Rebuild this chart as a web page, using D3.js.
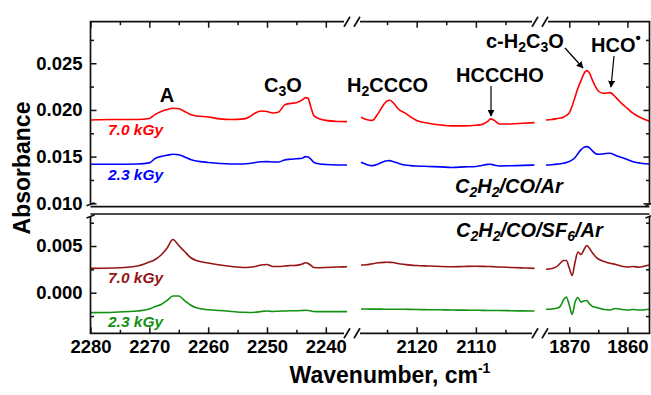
<!DOCTYPE html>
<html><head><meta charset="utf-8">
<script src="https://cdn.jsdelivr.net/npm/d3@7"></script>
<style>
body{margin:0;background:#fff}
svg{display:block}
text{font-family:"Liberation Sans",Arial,Helvetica,sans-serif;font-weight:bold}
</style>
</head><body>
<svg id="chart" width="651" height="395"></svg>
<script>
// ---------- DATA ----------
// Segment 1 (2280-2236 cm-1)
const wn1 = [2280,2276,2272,2270,2269,2268,2267,2266,2265,2264,2263,2262,2260,2258,2256,2254,2253,2252,2251,2250,2249,2248,2247,2246,2245,2244,2243.5,2243,2242.5,2242,2241,2240,2238,2236.4];
const red1 = [0.01893,0.01898,0.01898,0.01909,0.01952,0.01984,0.02005,0.02018,0.02013,0.01984,0.01952,0.01936,0.01925,0.01904,0.01898,0.01904,0.01925,0.01968,0.01989,0.01984,0.01968,0.01979,0.02054,0.02070,0.02078,0.02107,0.02132,0.02123,0.02021,0.01936,0.01904,0.01888,0.01877,0.01875];
const blue1 = [0.01419,0.01419,0.01422,0.01433,0.01481,0.01502,0.01515,0.01526,0.01520,0.01497,0.01470,0.01454,0.01438,0.01427,0.01422,0.01422,0.01427,0.01438,0.01445,0.01447,0.01443,0.01443,0.01465,0.01472,0.01477,0.01483,0.01500,0.01497,0.01470,0.01438,0.01422,0.01416,0.01411,0.01411];
const darkred1 = [0.00261,0.00265,0.00286,0.00329,0.00356,0.00404,0.00475,0.00570,0.00505,0.00441,0.00377,0.00345,0.00318,0.00297,0.00281,0.00270,0.00272,0.00281,0.00297,0.00302,0.00281,0.00281,0.00286,0.00291,0.00293,0.00307,0.00321,0.00313,0.00291,0.00270,0.00268,0.00270,0.00275,0.00278];
const green1 = [-0.00214,-0.00209,-0.00196,-0.00175,-0.00148,-0.00126,-0.00084,-0.00035,-0.00036,-0.00084,-0.00132,-0.00162,-0.00183,-0.00191,-0.00201,-0.00210,-0.00212,-0.00210,-0.00201,-0.00196,-0.00201,-0.00198,-0.00196,-0.00194,-0.00193,-0.00191,-0.00188,-0.00191,-0.00196,-0.00201,-0.00203,-0.00203,-0.00203,-0.00203];

// Segment 2 (2129-2100 cm-1)
const wn2 = [2129.4,2128.5,2127.5,2126.5,2125.5,2125,2124.5,2124,2123,2122,2121,2120,2118,2116,2114,2112,2110,2109,2108,2107.5,2107,2106,2104,2102,2100.1];
const red2 = [0.01922,0.01898,0.01888,0.01963,0.02064,0.02096,0.02104,0.02080,0.02005,0.01968,0.01925,0.01888,0.01858,0.01839,0.01829,0.01829,0.01836,0.01845,0.01877,0.01904,0.01893,0.01850,0.01850,0.01858,0.01864];
const blue2 = [0.01440,0.01417,0.01404,0.01422,0.01449,0.01456,0.01457,0.01449,0.01427,0.01411,0.01404,0.01400,0.01395,0.01390,0.01384,0.01390,0.01395,0.01406,0.01417,0.01419,0.01411,0.01400,0.01403,0.01406,0.01411];
const darkred2 = [0.00297,0.00300,0.00310,0.00320,0.00325,0.00326,0.00325,0.00323,0.00310,0.00302,0.00295,0.00291,0.00286,0.00281,0.00278,0.00281,0.00283,0.00282,0.00281,0.00280,0.00278,0.00275,0.00270,0.00265,0.00261];
const green2 = [-0.00175,-0.00175,-0.00176,-0.00176,-0.00177,-0.00177,-0.00177,-0.00177,-0.00178,-0.00178,-0.00179,-0.00180,-0.00182,-0.00183,-0.00185,-0.00187,-0.00188,-0.00189,-0.00190,-0.00190,-0.00191,-0.00191,-0.00193,-0.00195,-0.00196];

// Segment 3 (1874-1856 cm-1)
const wn3 = [1874,1873,1872,1871.5,1871,1870.5,1870,1869.5,1869,1868.5,1868,1867.5,1867,1866.5,1866,1865.5,1865,1864,1863,1862,1861,1860,1859,1858,1857,1856.2];
const red3 = [0.01893,0.01898,0.01909,0.01914,0.01923,0.01941,0.01968,0.02043,0.02139,0.02236,0.02311,0.02386,0.02421,0.02391,0.02316,0.02252,0.02203,0.02177,0.02185,0.02134,0.02070,0.02016,0.01963,0.01927,0.01898,0.01880];
const blue3 = [0.01411,0.01414,0.01420,0.01424,0.01430,0.01438,0.01449,0.01465,0.01491,0.01534,0.01572,0.01599,0.01607,0.01593,0.01561,0.01534,0.01526,0.01531,0.01536,0.01513,0.01491,0.01470,0.01445,0.01433,0.01424,0.01422];
const darkred3 = [0.00251,0.00259,0.00286,0.00318,0.00345,0.00345,0.00265,0.00184,0.00329,0.00436,0.00409,0.00457,0.00505,0.00473,0.00425,0.00388,0.00361,0.00334,0.00315,0.00302,0.00283,0.00275,0.00281,0.00272,0.00286,0.00297];
const green3 = [-0.00178,-0.00175,-0.00164,-0.00142,-0.00078,-0.00046,-0.00132,-0.00233,-0.00100,-0.00051,-0.00100,-0.00089,-0.00084,-0.00121,-0.00148,-0.00156,-0.00164,-0.00180,-0.00185,-0.00169,-0.00180,-0.00185,-0.00180,-0.00185,-0.00183,-0.00178];

// Tick values
const xMajor1 = [2280,2270,2260,2250,2240], xMinor1 = [2275,2265,2255,2245];
const xMajor2 = [2120,2110], xMinor2 = [2125,2115,2105];
const xMajor3 = [1870,1860], xMinor3 = [1865];
const yMajorU = [0.010,0.015,0.020,0.025], yMinorU = [0.0125,0.0175,0.0225,0.0275];
const yMajorL = [0.000,0.005], yMinorL = [-0.0025,0.0025,0.0075];

// Labels
const doseLabels = ["7.0 kGy","2.3 kGy"];
const colors = {red:"#ff0000", blue:"#0000ff", darkred:"#951515", green:"#129112"};

// ---------- LAYOUT ----------
const svg = d3.select("#chart");
const L = 90.5, R = 649.5, T = 21.7, B = 333.3, UB = 206.7, LT = 214;

const segs = [
  {x: d3.scaleLinear().domain([2280, 2236.4]).range([L, 347]), wn: wn1, major: xMajor1, minor: xMinor1,
   series: [red1, blue1, darkred1, green1]},
  {x: d3.scaleLinear().domain([2129.4, 2100.1]).range([361, 534.5]), wn: wn2, major: xMajor2, minor: xMinor2,
   series: [red2, blue2, darkred2, green2]},
  {x: d3.scaleLinear().domain([1874, 1856.2]).range([546, R]), wn: wn3, major: xMajor3, minor: xMinor3,
   series: [red3, blue3, darkred3, green3]}
];
const yU = d3.scaleLinear().domain([0.00964, 0.02945]).range([UB, T]);
const yL = d3.scaleLinear().domain([-0.00435, 0.00843]).range([B, LT]);

const seriesMeta = [
  {color: colors.red, y: yU}, {color: colors.blue, y: yU},
  {color: colors.darkred, y: yL}, {color: colors.green, y: yL}
];

// ---------- DATA LINES ----------
segs.forEach(s => {
  s.series.forEach((vals, i) => {
    const m = seriesMeta[i];
    const line = d3.line().x((d, j) => s.x(s.wn[j])).y(d => m.y(d)).curve(d3.curveMonotoneX);
    svg.append("path").attr("d", line(vals)).attr("fill", "none")
      .attr("stroke", m.color).attr("stroke-width", 1.6).attr("stroke-linejoin", "round");
  });
});

// ---------- FRAME ----------
const frame = svg.append("g").attr("stroke", "#111").attr("stroke-width", 1.7).attr("fill", "none");
const hl = (x1, x2, y) => frame.append("line").attr("x1", x1).attr("x2", x2).attr("y1", y).attr("y2", y);
const vl = (x, y1, y2) => frame.append("line").attr("x1", x).attr("x2", x).attr("y1", y1).attr("y2", y2);
const gaps = [352, 540];
[T, B].forEach(y => {
  hl(L - 0.8, gaps[0] - 8, y); hl(gaps[0] + 8, gaps[1] - 8, y); hl(gaps[1] + 8, R + 0.8, y);
  gaps.forEach(c => {
    frame.append("line").attr("x1", c - 8).attr("y1", y + 5).attr("x2", c - 2).attr("y2", y - 5);
    frame.append("line").attr("x1", c + 2).attr("y1", y + 5).attr("x2", c + 8).attr("y2", y - 5);
  });
});
hl(L, R, UB); hl(L, R, LT);
[L, R].forEach(x => {
  vl(x, T, UB - 3); vl(x, LT + 3, B);
  frame.append("line").attr("x1", x - 4).attr("y1", UB - 1).attr("x2", x + 4).attr("y2", UB - 4);
  frame.append("line").attr("x1", x - 4).attr("y1", LT + 4).attr("x2", x + 4).attr("y2", LT + 1);
});

// ---------- AXES ----------
function styleAxis(g) {
  g.select(".domain").remove();
  g.selectAll(".tick line").attr("stroke", "#111").attr("stroke-width", 1.5);
  g.selectAll(".tick text").attr("font-size", 18.5).attr("font-weight", "bold")
    .attr("font-family", "'Liberation Sans',Arial,sans-serif").style("fill", "#000");
}
segs.forEach(s => {
  svg.append("g").attr("transform", `translate(0,${B})`)
    .call(d3.axisBottom(s.x).tickValues(s.major).tickSize(-6).tickPadding(7).tickFormat(d3.format("d"))).call(styleAxis);
  svg.append("g").attr("transform", `translate(0,${B})`)
    .call(d3.axisBottom(s.x).tickValues(s.minor).tickSize(-3.5).tickFormat("")).call(styleAxis);
  svg.append("g").attr("transform", `translate(0,${T})`)
    .call(d3.axisTop(s.x).tickValues(s.major).tickSize(-6).tickFormat("")).call(styleAxis);
  svg.append("g").attr("transform", `translate(0,${T})`)
    .call(d3.axisTop(s.x).tickValues(s.minor).tickSize(-3.5).tickFormat("")).call(styleAxis);
});
[[yU, yMajorU, yMinorU], [yL, yMajorL, yMinorL]].forEach(([y, maj, min]) => {
  svg.append("g").attr("transform", `translate(${L},0)`)
    .call(d3.axisLeft(y).tickValues(maj).tickSize(-6).tickPadding(8).tickFormat(d3.format(".3f"))).call(styleAxis);
  svg.append("g").attr("transform", `translate(${L},0)`)
    .call(d3.axisLeft(y).tickValues(min).tickSize(-3.5).tickFormat("")).call(styleAxis);
  svg.append("g").attr("transform", `translate(${R},0)`)
    .call(d3.axisRight(y).tickValues(maj).tickSize(-6).tickFormat("")).call(styleAxis);
  svg.append("g").attr("transform", `translate(${R},0)`)
    .call(d3.axisRight(y).tickValues(min).tickSize(-3.5).tickFormat("")).call(styleAxis);
});

// ---------- TITLES ----------
svg.append("text").attr("transform", "translate(30,168) rotate(-90)").attr("text-anchor", "middle")
  .attr("font-size", 23).style("fill", "#000").text("Absorbance");
const xt = svg.append("text").attr("x", 390).attr("y", 383).attr("text-anchor", "middle")
  .attr("font-size", 23).style("fill", "#000");
xt.append("tspan").text("Wavenumber, cm");
xt.append("tspan").attr("font-size", 14).attr("dy", -10).text("-1");

// ---------- ANNOTATIONS ----------
function rich(x, y, parts, opts = {}) {
  const t = svg.append("text").attr("x", x).attr("y", y).attr("font-size", opts.size || 20)
    .attr("text-anchor", opts.anchor || "start").style("fill", opts.fill || "#000");
  if (opts.italic) t.attr("font-style", "italic");
  let shift = 0;
  parts.forEach(p => {
    const target = p.sub ? 4 : p.sup ? -9 : 0;
    const ts = t.append("tspan").attr("dy", target - shift).text(p.t);
    if (p.sub || p.sup) ts.attr("font-size", p.size || 14);
    shift = target;
  });
  return t;
}
rich(167, 102, [{t: "A"}], {anchor: "middle"});
rich(264, 92, [{t: "C"}, {t: "3", sub: true}, {t: "O"}]);
rich(347, 92, [{t: "H"}, {t: "2", sub: true}, {t: "CCCO"}]);
rich(456, 82, [{t: "HCCCHO"}]);
rich(486, 48, [{t: "c-H"}, {t: "2", sub: true}, {t: "C"}, {t: "3", sub: true}, {t: "O"}]);
rich(591, 52, [{t: "HCO"}, {t: "•", sup: true, size: 15}]);

rich(455, 193, [{t: "C"}, {t: "2", sub: true}, {t: "H"}, {t: "2", sub: true}, {t: "/CO/Ar"}], {italic: true, size: 20});
rich(456, 237, [{t: "C"}, {t: "2", sub: true}, {t: "H"}, {t: "2", sub: true}, {t: "/CO/SF"}, {t: "6", sub: true}, {t: "/Ar"}], {italic: true, size: 20});

const doseSpec = [
  {t: doseLabels[0], y: 135, c: colors.red},
  {t: doseLabels[1], y: 180, c: colors.blue},
  {t: doseLabels[0], y: 283, c: colors.darkred},
  {t: doseLabels[1], y: 327, c: colors.green}
];
doseSpec.forEach(d => {
  svg.append("text").attr("x", 108).attr("y", d.y).attr("font-size", 15.5).attr("font-style", "italic")
    .style("fill", d.c).text(d.t);
});

// arrows
const defs = svg.append("defs");
defs.append("marker").attr("id", "ah").attr("viewBox", "0 0 10 10").attr("refX", 9).attr("refY", 5)
  .attr("markerWidth", 7).attr("markerHeight", 7).attr("orient", "auto-start-reverse").attr("markerUnits", "userSpaceOnUse")
  .append("path").attr("d", "M0,0 L10,5 L0,10 z").attr("fill", "#000");
[[491, 86, 491, 116], [565, 48, 583, 68], [614, 56, 611, 87]].forEach(a => {
  svg.append("line").attr("x1", a[0]).attr("y1", a[1]).attr("x2", a[2]).attr("y2", a[3])
    .attr("stroke", "#000").attr("stroke-width", 1.2).attr("marker-end", "url(#ah)");
});
</script>
</body></html>
